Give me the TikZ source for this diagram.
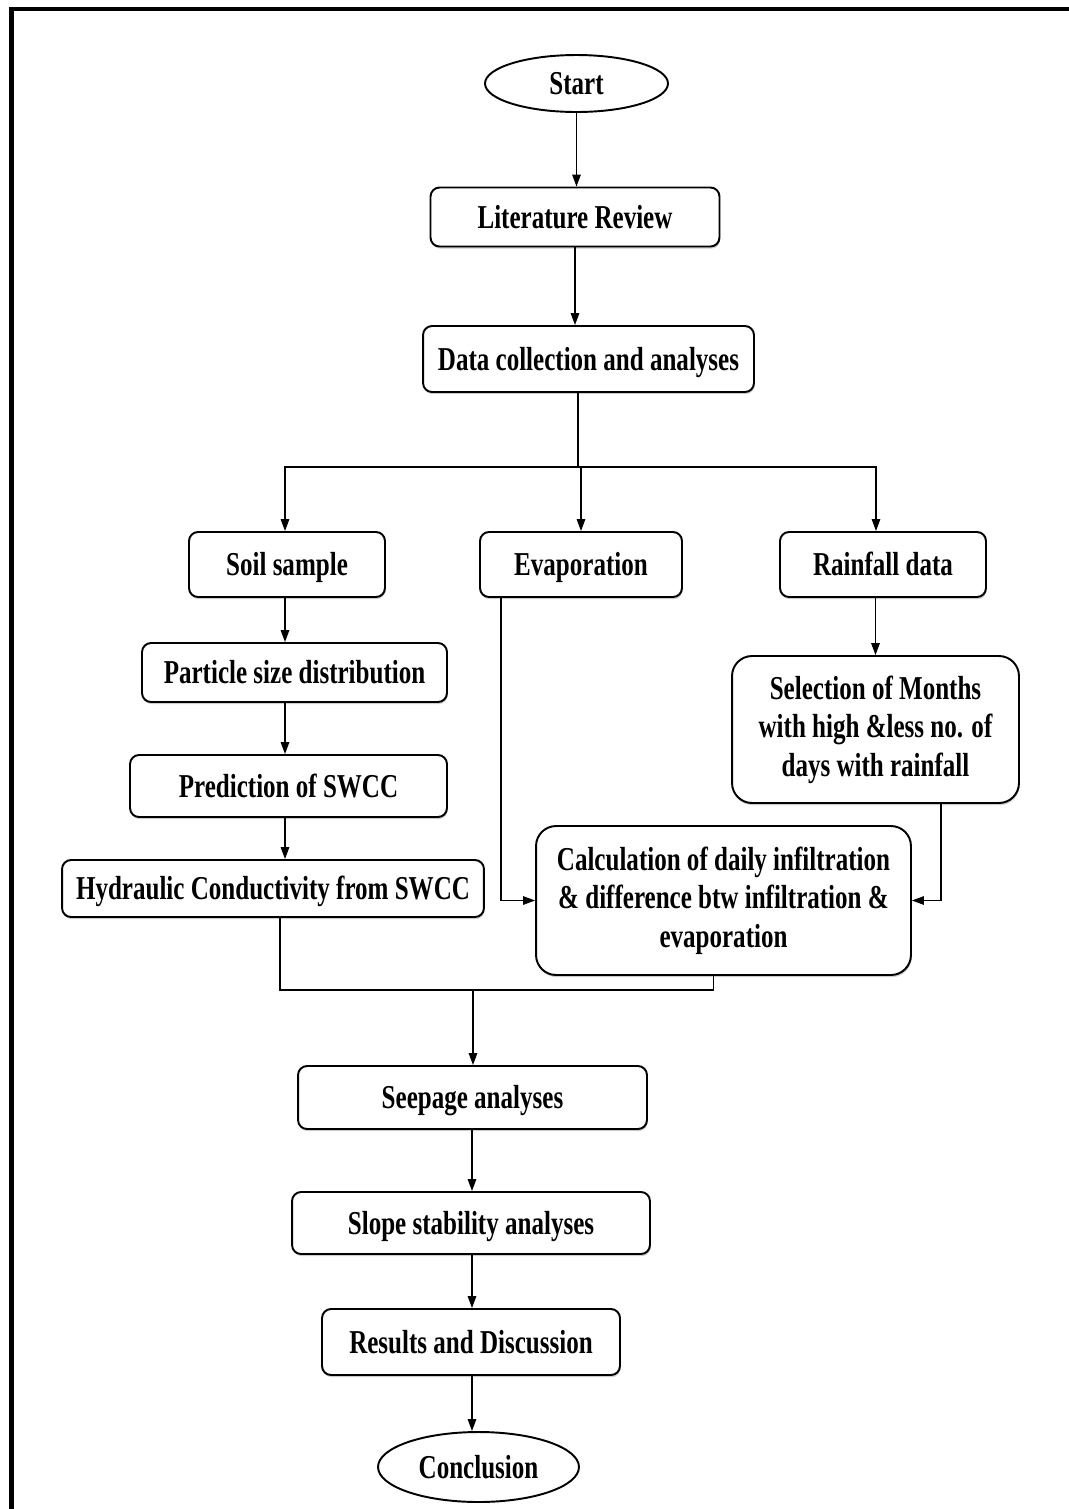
\documentclass[tikz,border=0pt]{standalone}
\usepackage{fontspec}
\setmainfont{Liberation Serif}[FakeStretch=0.75]
\usepackage{tikz}
\usetikzlibrary{arrows.meta,shapes.geometric,shadows}

\begin{document}
\begin{tikzpicture}[x=0.02cm,y=-0.02cm,
    base/.style={draw,fill=white,line width=1.1pt,align=center,inner sep=0pt,
      font=\fontsize{19}{22}\selectfont\bfseries},
    box/.style={base,rounded corners=0.18cm,text height=16pt,text depth=3.4pt,
      drop shadow={shadow xshift=0.4pt,shadow yshift=-1.2pt,opacity=0.4}},
    bigbox/.style={base,rounded corners=0.4cm,
      drop shadow={shadow xshift=0.4pt,shadow yshift=-1.2pt,opacity=0.4}},
    term/.style={base,ellipse,text height=16pt,text depth=3.4pt},
    arr/.style={line width=0.8pt,-{Triangle[length=2.4mm,width=1.7mm]}},
    ln/.style={line width=0.8pt}]
  \useasboundingbox (0,0) rectangle (1069,1509);
  \draw[line width=2.3pt] (11.5,1515) -- (11.5,9) -- (1075,9);
  \node[term,minimum width=3.66cm,minimum height=1.14cm] (start) at (576.5,83.5) {Start};
  \node[box,minimum width=5.78cm,minimum height=1.18cm] (lit) at (575,217) {Literature Review};
  \node[box,minimum width=6.62cm,minimum height=1.32cm] (data) at (588.5,359) {Data collection and analyses};
  \node[box,minimum width=3.92cm,minimum height=1.30cm] (soil) at (287,564.5) {Soil sample};
  \node[box,minimum width=4.04cm,minimum height=1.30cm] (evap) at (581,564.5) {Evaporation};
  \node[box,minimum width=4.12cm,minimum height=1.30cm] (rain) at (883,564.5) {Rainfall data};
  \node[box,minimum width=6.10cm,minimum height=1.18cm] (part) at (294.5,672.5) {Particle size distribution};
  \node[box,minimum width=6.34cm,minimum height=1.24cm] (pred) at (288.5,786) {Prediction of SWCC};
  \node[box,minimum width=8.44cm,minimum height=1.14cm] (hyd) at (273,888.5) {Hydraulic Conductivity from SWCC};
  \node[bigbox,minimum width=5.74cm,minimum height=2.94cm] (sel) at (875.5,729.5)
    {Selection of Months\\with high \&less no. of\\days with rainfall};
  \node[bigbox,minimum width=7.50cm,minimum height=2.98cm] (calc) at (723.5,900.5)
    {Calculation of daily infiltration\\\& difference btw infiltration \&\\evaporation};
  \node[box,minimum width=6.98cm,minimum height=1.26cm] (seep) at (472.5,1097.5) {Seepage analyses};
  \node[box,minimum width=7.16cm,minimum height=1.24cm] (slope) at (471,1223) {Slope stability analyses};
  \node[box,minimum width=5.96cm,minimum height=1.32cm] (res) at (471,1342) {Results and Discussion};
  \node[term,minimum width=4.02cm,minimum height=1.40cm] (concl) at (478.5,1467) {Conclusion};
  \coordinate (split) at (578,467);
  \coordinate (mrg) at (473,990);
  \draw[arr] (start) -- (start |- lit.north);
  \draw[arr] (lit.south) -- (lit.south |- data.north);
  \draw[ln] (split |- data.south) -- (split);
  \draw[arr] (split) -| (soil.north -| 285,0);
  \draw[arr] (split) -| (evap.north);
  \draw[arr] (split) -| (rain.north -| 876,0);
  \foreach \a/\b in {soil/part,part/pred,pred/hyd}
    \draw[arr] (\a.south -| 285,0) -- (\b.north -| 285,0);
  \draw[arr] (rain.south -| sel.north) -- (sel.north);
  \draw[arr] ([xshift=0.44cm]evap.south west) |- (calc.west);
  \draw[arr] ([xshift=-1.58cm]sel.south east) |- (calc.east);
  \draw[ln] ([xshift=0.14cm]hyd.south) |- (mrg) -| ([xshift=-0.2cm]calc.south);
  \draw[arr] (mrg) -- (seep.north -| mrg);
  \foreach \a/\b in {seep/slope,slope/res,res/concl}
    \draw[arr] (\a.south -| 472,0) -- (\b.north -| 472,0);
\end{tikzpicture}
\end{document}
